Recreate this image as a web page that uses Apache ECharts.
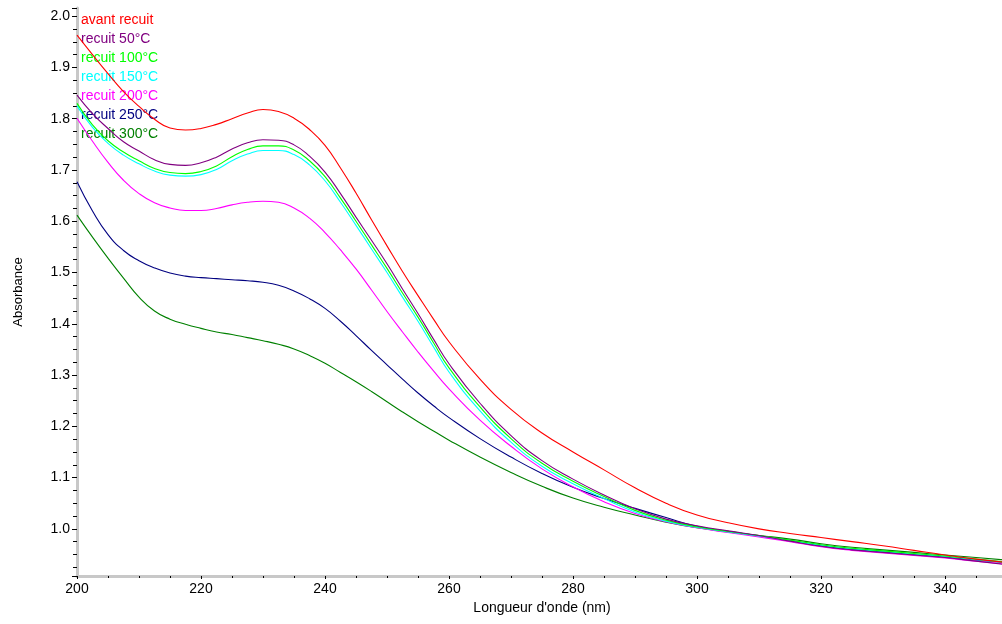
<!DOCTYPE html>
<html>
<head>
<meta charset="utf-8">
<script src="https://cdn.jsdelivr.net/npm/echarts@6/dist/echarts.min.js"></script>
<style>
html,body{margin:0;padding:0;background:#fff;overflow:hidden;width:1002px;height:624px;}
#chart{width:1007px;height:624px;}
</style>
</head>
<body>
<div id="chart"></div>
<script>
const wavelengths = [200,202.5,205,207.5,210,212.5,215,217.5,220,222.5,225,227.5,230,232.5,235,237.5,240,242.5,245,247.5,250,252.5,255,257.5,260,
  265,270,275,280,285,290,295,300,305,310,315,320,325,330,335,340,345,350];

const avantRecuit = [1.963,1.925,1.888,1.853,1.824,1.799,1.782,1.778,1.781,1.789,1.800,1.811,1.818,1.814,1.801,1.779,1.748,1.704,1.655,1.603,1.552,1.502,1.455,1.409,1.365,
  1.292,1.233,1.187,1.150,1.115,1.080,1.050,1.027,1.012,1.000,0.991,0.983,0.975,0.967,0.958,0.949,0.941,0.934];
const recuit50 = [1.846,1.810,1.781,1.755,1.737,1.720,1.711,1.709,1.714,1.725,1.741,1.753,1.759,1.758,1.749,1.727,1.696,1.654,1.608,1.563,1.517,1.468,1.420,1.370,1.322,
  1.245,1.182,1.133,1.097,1.066,1.039,1.019,1.006,0.996,0.987,0.976,0.966,0.959,0.954,0.949,0.944,0.937,0.930];
const recuit100 = [1.830,1.788,1.757,1.735,1.718,1.703,1.695,1.693,1.697,1.708,1.726,1.740,1.747,1.747,1.739,1.718,1.687,1.645,1.600,1.554,1.508,1.460,1.413,1.363,1.314,
  1.238,1.176,1.128,1.093,1.063,1.036,1.017,1.004,0.995,0.987,0.978,0.969,0.962,0.957,0.952,0.947,0.941,0.935];
const recuit150 = [1.825,1.783,1.752,1.729,1.712,1.698,1.690,1.688,1.691,1.701,1.718,1.731,1.738,1.738,1.730,1.710,1.679,1.637,1.592,1.546,1.500,1.452,1.405,1.355,1.306,
  1.230,1.169,1.122,1.088,1.059,1.033,1.015,1.003,0.994,0.986,0.977,0.968,0.961,0.956,0.951,0.946,0.940,0.934];
const recuit200 = [1.801,1.756,1.715,1.680,1.654,1.636,1.626,1.621,1.621,1.625,1.632,1.637,1.639,1.637,1.626,1.606,1.578,1.544,1.507,1.466,1.424,1.384,1.345,1.308,1.273,
  1.212,1.161,1.117,1.082,1.053,1.030,1.014,1.002,0.993,0.984,0.975,0.965,0.958,0.953,0.948,0.943,0.937,0.931];
const recuit250 = [1.677,1.620,1.574,1.543,1.523,1.509,1.499,1.493,1.490,1.488,1.486,1.484,1.481,1.475,1.464,1.449,1.430,1.405,1.377,1.348,1.320,1.292,1.265,1.240,1.217,
  1.176,1.140,1.108,1.081,1.059,1.040,1.022,1.005,0.995,0.986,0.977,0.967,0.960,0.955,0.950,0.945,0.939,0.934];
const recuit300 = [1.612,1.569,1.528,1.489,1.452,1.425,1.409,1.399,1.391,1.384,1.379,1.373,1.367,1.360,1.351,1.338,1.323,1.305,1.287,1.268,1.248,1.228,1.209,1.191,1.173,
  1.140,1.110,1.083,1.060,1.042,1.027,1.013,1.002,0.994,0.987,0.980,0.971,0.964,0.959,0.954,0.949,0.944,0.939];

const seriesNames = ['avant recuit','recuit 50°C','recuit 100°C','recuit 150°C','recuit 200°C','recuit 250°C','recuit 300°C'];
const seriesValues = [avantRecuit, recuit50, recuit100, recuit150, recuit200, recuit250, recuit300];
const seriesColors = ['#ff0000','#800080','#00ff00','#00ffff','#ff00ff','#000080','#008000'];

const xTitle = "Longueur d'onde (nm)";
const yTitle = 'Absorbance';

const font = 'Arial, "Liberation Sans", sans-serif';

const chart = echarts.init(document.getElementById('chart'), null, {renderer: 'canvas', width: 1007, height: 624});

const series = seriesNames.map((name, i) => ({
  name: name,
  type: 'line',
  data: wavelengths.map((w, j) => [w, seriesValues[i][j]]),
  showSymbol: false,
  smooth: 0.5,
  lineStyle: {color: seriesColors[i], width: 1.1},
  itemStyle: {color: seriesColors[i]},
  emphasis: {disabled: true},
  z: 10 - i
}));

chart.setOption({
  animation: false,
  backgroundColor: '#ffffff',
  grid: {left: 77, right: 0, top: 8, bottom: 48, containLabel: false, outerBoundsMode: 'none'},
  legend: {
    orient: 'vertical',
    left: 71,
    top: 8,
    icon: 'none',
    itemWidth: 0,
    itemHeight: 14,
    itemGap: 5,
    selectedMode: false,
    textStyle: {fontFamily: font, fontSize: 14},
    data: seriesNames.map((n, i) => ({name: n, textStyle: {color: seriesColors[i]}}))
  },
  xAxis: {
    type: 'value',
    min: 200,
    max: 350,
    interval: 20,
    name: xTitle,
    nameLocation: 'middle',
    nameGap: 24,
    nameTextStyle: {fontFamily: font, fontSize: 14, color: '#000'},
    axisLine: {show: true, lineStyle: {color: '#c8c8c8', width: 3}},
    axisTick: {show: true, length: 3, lineStyle: {color: '#000', width: 1}},
    minorTick: {show: true, splitNumber: 4, length: 2, lineStyle: {color: '#000', width: 1}},
    axisLabel: {fontFamily: font, fontSize: 14, color: '#000', margin: 6, showMaxLabel: false},
    splitLine: {show: false}
  },
  yAxis: {
    type: 'value',
    min: 0.908,
    max: 2.016,
    splitNumber: 10,
    minInterval: 0.1,
    maxInterval: 0.1,
    name: yTitle,
    nameLocation: 'middle',
    nameGap: 52,
    nameTextStyle: {fontFamily: font, fontSize: 13, color: '#000'},
    axisLine: {show: true, lineStyle: {color: '#c8c8c8', width: 3}},
    axisTick: {show: true, length: 5, lineStyle: {color: '#000', width: 1}},
    minorTick: {show: true, splitNumber: 4, length: 4, lineStyle: {color: '#000', width: 1}},
    axisLabel: {
      fontFamily: font, fontSize: 14, color: '#000', margin: 7,
      showMinLabel: false, showMaxLabel: false,
      formatter: v => v.toFixed(1)
    },
    splitLine: {show: false}
  },
  series: series
});
</script>
</body>
</html>
